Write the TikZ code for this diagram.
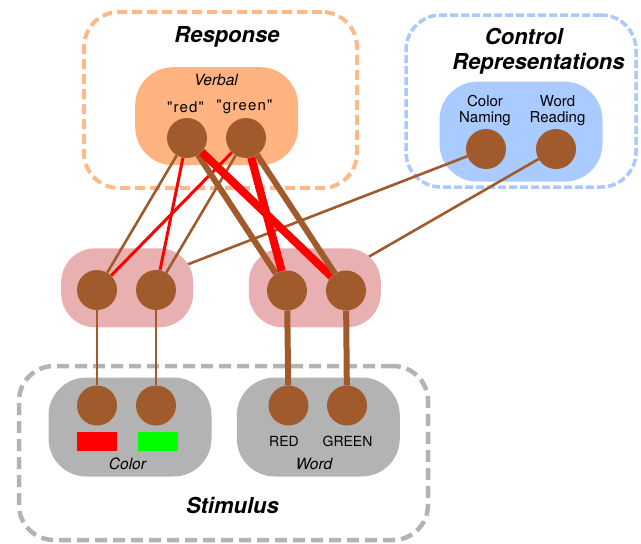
\documentclass[tikz,border=0pt]{standalone}
\usepackage{fontspec}
\setmainfont{TeX Gyre Heros}
\newfontfamily\quotefont{TeX Gyre Heros}[Ligatures=TeXOff, LetterSpace=8]
\definecolor{brn}{HTML}{A05A2C}
\definecolor{orgdash}{HTML}{FFB887}
\definecolor{orgpill}{HTML}{FFB380}
\definecolor{bluedash}{HTML}{A8CAFF}
\definecolor{bluepill}{HTML}{AACBFF}
\definecolor{pinkpill}{HTML}{E8B0B0}
\definecolor{graypill}{HTML}{B3B3B3}
\definecolor{graydash}{HTML}{B3B3B3}
\definecolor{stimred}{HTML}{FF0000}
\definecolor{stimgreen}{HTML}{00FF00}
\pgfdeclarelayer{pills}
\pgfdeclarelayer{ctl}
\pgfdeclarelayer{hid}
\pgfdeclarelayer{wires}
\pgfsetlayers{pills,ctl,hid,wires,main}
\begin{document}
\begin{tikzpicture}[x=1pt,y=-1pt,
  unit/.style={circle, fill=brn, minimum size=40pt, inner sep=0pt},
  pill/.style={inner sep=0pt, rounded corners=38pt},
  hpill/.style={inner sep=0pt, rounded corners=34pt, fill=pinkpill, minimum width=132pt, minimum height=79pt},
  grp/.style={inner sep=0pt, rounded corners=35pt},
  title/.style={font=\fontsize{22}{26}\selectfont\bfseries\itshape},
  lbl/.style={font=\fontsize{15}{17}\selectfont, inner sep=0pt},
  ilbl/.style={font=\fontsize{15.5}{17}\selectfont\itshape, inner sep=0pt},
  qlbl/.style={font=\quotefont\fontsize{15}{17}\selectfont, inner sep=0pt},
  slbl/.style={font=\fontsize{14}{16}\selectfont, inner sep=0pt},
  thinb/.style={draw=brn, line width=2.6pt},
  thinr/.style={draw=red, line width=3pt},
  thickb/.style={draw=brn, line width=6pt},
  thickr/.style={draw=red, line width=8pt}
]
\useasboundingbox (0,0) rectangle (641,544);

% units (main layer)
\node[unit] (rr) at (187,138) {};
\node[unit] (rg) at (246,138) {};
\node[unit] (cn) at (486,149) {};
\node[unit] (wr) at (556,149) {};
\node[unit] (h1) at (97,290) {};
\node[unit] (h2) at (156,290) {};
\node[unit] (h3) at (287,290.5) {};
\node[unit] (h4) at (346,290.5) {};
\node[unit] (sc1) at (97,405.5) {};
\node[unit] (sc2) at (156,405.5) {};
\node[unit] (sw1) at (288.5,405.5) {};
\node[unit] (sw2) at (347,405.5) {};

\begin{pgfonlayer}{pills}
  % dashed groups
  \node[grp, draw=orgdash, line width=4pt, dash pattern=on 10pt off 5pt,
        minimum width=273pt, minimum height=176pt] (respgrp) at (220.5,100) {};
  \node[grp, draw=bluedash, line width=3.5pt, dash pattern=on 8pt off 3pt,
        minimum width=230pt, minimum height=172pt] (ctlgrp) at (521,101) {};
  \node[grp, draw=graydash, line width=4.5pt, dash pattern=on 12pt off 6pt,
        minimum width=409pt, minimum height=174pt] (stimgrp) at (223.5,453) {};
  % pills
  \node[pill, fill=orgpill, minimum width=163pt, minimum height=98pt] (verbal) at (216.7,116.2) {};
  \node[pill, fill=bluepill, minimum width=163pt, minimum height=100pt] (ctlpill) at (521,131.7) {};
  \node[pill, fill=graypill, minimum width=163pt, minimum height=99pt] (colpill) at (130,427) {};
  \node[pill, fill=graypill, minimum width=163pt, minimum height=99pt] (wordpill) at (318.3,427) {};
\end{pgfonlayer}

\begin{pgfonlayer}{hid}
  \node[hpill] (hidL) at (127.2,287.8) {};
  \node[hpill] (hidR) at (314.8,287.8) {};
\end{pgfonlayer}

\begin{pgfonlayer}{ctl}
  \draw[thinb] (cn) -- (hidL.center);
  \draw[thinb] (wr) -- (hidR.center);
\end{pgfonlayer}

\begin{pgfonlayer}{wires}
  \draw[thinb] (sc1) -- (h1);
  \draw[thinb] (sc2) -- (h2);
  \draw[thickb] (sw1) -- (h3);
  \draw[thickb] (sw2) -- (h4);
  \draw[thinb] (rr) -- (h1);
  \draw[thinr] (rr) -- (h2);
  \draw[thinr] (rg) -- (h1);
  \draw[thinb] (rg) -- (h2);
  \draw[thickb] (rr) -- (h3);
  \draw[thickr] (rr) -- (h4);
  \draw[thickr] (rg) -- (h3);
  \draw[thickb] (rg) -- (h4);
\end{pgfonlayer}

% stimulus colour patches
\node[fill=stimred, minimum width=40.6pt, minimum height=18.7pt, inner sep=0pt] (redpatch) at (97,441.7) {};
\node[fill=stimgreen, minimum width=40.6pt, minimum height=18.7pt, inner sep=0pt] (greenpatch) at (158,441.7) {};

% labels
\node[title] (resptitle) at (227,37) {Response};
\node[title] (ctltitle1) at (524,36) {Control};
\node[title] (ctltitle2) at (538.5,64) {Representations};
\node[title] (stimtitle) at (232.5,505.5) {Stimulus};
\node[ilbl] (verballbl) at (216,80) {Verbal};
\node[qlbl] (redlbl) at (185.5,107) {"red"};
\node[qlbl] (greenlbl) at (244.5,107) {"green"};
\node[lbl] (cnlbl1) at (485,101) {Color};
\node[lbl] (cnlbl2) at (485,118.5) {Naming};
\node[lbl] (wrlbl1) at (557.5,101) {Word};
\node[lbl] (wrlbl2) at (557.5,118.5) {Reading};
\node[slbl] (REDlbl) at (284,441) {RED};
\node[slbl] (GREENlbl) at (347.5,441) {GREEN};
\node[ilbl] (colorlbl) at (127.5,464) {Color};
\node[ilbl] (wordlbl) at (314,464) {Word};
\end{tikzpicture}
\end{document}
